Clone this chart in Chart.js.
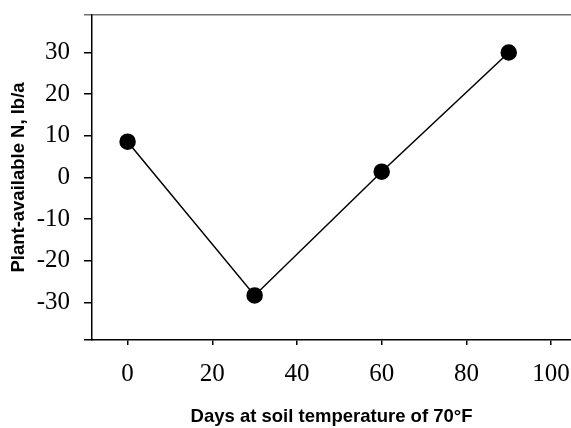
<!DOCTYPE html>
<html>
<head>
<meta charset="utf-8">
<script src="https://cdn.jsdelivr.net/npm/chart.js@4"></script>
<style>
  html, body { margin: 0; padding: 0; background: #fff; }
  #wrap { width: 571px; height: 428px; }
</style>
</head>
<body>
<div id="wrap"><canvas id="chart" width="571" height="428"></canvas></div>
<script>
// Data
const days = [0, 30, 60, 90];
const plantN = [8.6, -28.3, 1.4, 30.0];
const xTicks = [0, 20, 40, 60, 80, 100];
const yTicks = [-39, -30, -20, -10, 0, 10, 20, 30, 39];
const yLabelled = [-30, -20, -10, 0, 10, 20, 30];

const ctx = document.getElementById('chart').getContext('2d');

new Chart(ctx, {
    type: 'scatter',
    data: {
        datasets: [{
            data: days.map((d, i) => ({ x: d, y: plantN[i] })),
            showLine: true,
            borderColor: '#000',
            borderWidth: 1.5,
            backgroundColor: '#000',
            pointBackgroundColor: '#000',
            pointBorderColor: '#000',
            pointRadius: 7.5,
            pointHoverRadius: 7.5
        }]
    },
    options: {
        responsive: false,
        animation: false,
        layout: { autoPadding: false, padding: { top: 15, right: 0, left: 0, bottom: 0 } },
        plugins: {
            legend: { display: false },
            tooltip: { enabled: false }
        },
        scales: {
            x: {
                type: 'linear',
                min: -8.4,
                max: 104.7,
                afterBuildTicks: (axis) => { axis.ticks = xTicks.map(v => ({ value: v })); },
                afterFit: (axis) => {
                    axis.height = 88;
                    axis.paddingLeft = 0;
                    axis.paddingRight = 0;
                },
                border: { color: '#000', width: 1.5 },
                grid: { drawOnChartArea: false, color: '#000', tickLength: 5, lineWidth: 1.5 },
                ticks: {
                    color: '#000',
                    padding: 14,
                    maxRotation: 0,
                    font: { family: '"Liberation Serif", "Times New Roman", serif', size: 25 }
                },
                title: {
                    display: true,
                    text: 'Days at soil temperature of 70°F',
                    color: '#000',
                    padding: { top: 0, bottom: 0 },
                    font: { family: '"Liberation Sans", Arial, sans-serif', size: 18.5, weight: 'bold' }
                }
            },
            y: {
                min: -39,
                max: 39,
                afterBuildTicks: (axis) => { axis.ticks = yTicks.map(v => ({ value: v })); },
                afterFit: (axis) => {
                    axis.width = 92;
                    axis.paddingTop = 0;
                    axis.paddingBottom = 0;
                },
                border: { color: '#000', width: 1.5 },
                grid: {
                    drawOnChartArea: true,
                    color: (c) => (c.tick && c.tick.value === 39 ? '#707070' : 'rgba(0,0,0,0)'),
                    tickColor: (c) => (c.tick && c.tick.value === 39 ? '#707070' : '#000'),
                    tickLength: 8,
                    lineWidth: 1.5
                },
                ticks: {
                    color: '#000',
                    padding: 14,
                    callback: (v) => (yLabelled.includes(v) ? String(v) : ''),
                    font: { family: '"Liberation Serif", "Times New Roman", serif', size: 25 }
                },
                title: {
                    display: true,
                    text: 'Plant-available N, lb/a',
                    color: '#000',
                    padding: { top: 8, bottom: 0 },
                    font: { family: '"Liberation Sans", Arial, sans-serif', size: 18.5, weight: 'bold' }
                }
            }
        }
    }
});
</script>
</body>
</html>
